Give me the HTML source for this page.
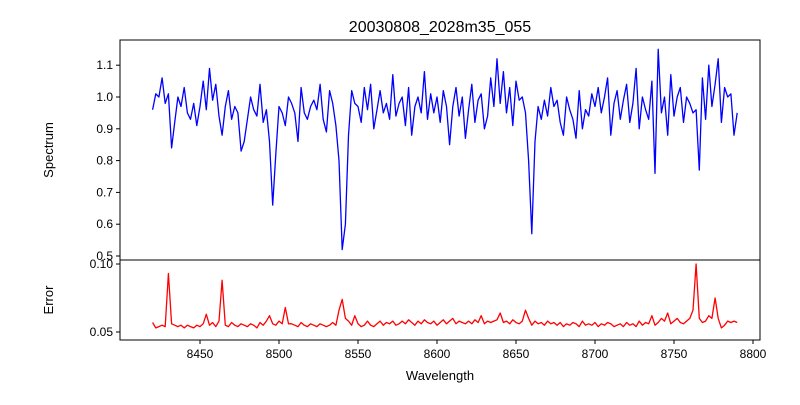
<!DOCTYPE html>
<html><head><meta charset="utf-8"><style>
body{margin:0;background:#fff}
svg{font-family:"Liberation Sans","DejaVu Sans",sans-serif}
</style></head><body>
<svg id="c" width="800" height="400" xmlns="http://www.w3.org/2000/svg">
<rect width="800" height="400" fill="#fff"/>
<text x="440" y="32" text-anchor="middle" font-size="16">20030808_2028m35_055</text>
<text transform="translate(53,150) rotate(-90)" text-anchor="middle" font-size="13">Spectrum</text>
<text transform="translate(53,300) rotate(-90)" text-anchor="middle" font-size="13">Error</text>
<text x="440" y="380" text-anchor="middle" font-size="13">Wavelength</text>
<g id="g"></g>
</svg>
<script>
const wlStart = 8420, wlStep = 2;
const spectrum = [
0.96,1.01,1.00,1.06,0.98,1.01,0.84,0.92,1.00,0.97,
1.03,0.95,0.93,0.98,0.91,0.97,1.05,0.96,1.09,0.99,
1.04,0.94,0.88,0.97,1.02,0.93,0.97,0.95,0.83,0.86,
0.93,1.00,0.96,0.94,1.04,0.92,0.96,0.86,0.66,0.82,
0.97,0.95,0.91,1.00,0.98,0.95,0.86,1.03,0.95,0.93,
0.97,0.99,0.96,1.04,0.93,0.89,1.02,0.98,0.91,0.80,
0.52,0.60,0.88,1.02,0.98,0.97,0.92,1.03,0.96,1.04,
0.90,0.96,1.02,0.95,0.98,0.93,1.07,0.94,0.98,1.00,
0.91,1.03,0.88,0.97,1.00,0.95,1.08,0.93,1.01,0.95,
1.00,0.92,1.02,0.97,0.85,0.97,1.03,0.94,1.00,0.87,
0.96,1.04,0.92,0.99,1.01,0.90,0.94,1.06,0.97,1.12,
0.98,1.08,0.95,1.03,0.91,1.05,0.99,1.00,0.95,0.80,
0.57,0.86,0.97,0.93,0.99,0.94,1.03,0.97,0.99,0.92,
0.88,1.00,0.96,0.93,0.87,1.02,0.90,0.96,0.94,1.01,
0.97,1.03,0.95,1.00,1.06,0.88,0.98,1.02,0.93,0.99,
1.04,0.92,0.98,1.09,0.90,1.00,0.96,0.93,1.05,0.76,
1.15,0.95,1.00,0.88,1.07,0.94,1.00,1.03,0.92,1.00,
0.98,0.95,0.96,0.77,1.06,0.93,1.10,0.97,1.04,1.12,
0.92,1.03,1.00,1.01,0.88,0.95];
const errors = [
.057,.053,.054,.055,.054,.093,.056,.055,.054,.055,
.053,.055,.054,.053,.055,.054,.056,.063,.055,.057,
.054,.058,.088,.055,.054,.057,.055,.054,.056,.055,
.054,.056,.055,.053,.057,.055,.058,.062,.056,.055,
.058,.056,.068,.056,.056,.055,.054,.057,.055,.054,
.056,.055,.054,.056,.055,.054,.055,.057,.055,.066,
.074,.060,.058,.055,.062,.056,.054,.055,.058,.055,
.054,.056,.058,.055,.057,.056,.058,.055,.056,.058,
.056,.059,.057,.055,.058,.056,.059,.057,.056,.058,
.055,.057,.059,.056,.058,.060,.056,.058,.057,.056,
.058,.056,.059,.057,.062,.056,.058,.057,.058,.059,
.064,.057,.058,.056,.059,.057,.056,.058,.066,.060,
.055,.058,.056,.057,.055,.058,.056,.057,.055,.057,
.054,.056,.055,.057,.056,.054,.058,.055,.056,.055,
.057,.054,.056,.055,.057,.056,.054,.055,.056,.054,
.057,.055,.056,.054,.058,.055,.057,.056,.062,.055,
.057,.060,.058,.064,.056,.058,.060,.057,.056,.058,
.060,.066,.100,.060,.057,.058,.062,.060,.075,.060,
.053,.055,.058,.057,.058,.057];
const xTicks = [8450,8500,8550,8600,8650,8700,8750,8800];
const specTicks = [0.5,0.6,0.7,0.8,0.9,1.0,1.1];
const specTickLabels = ["0.5","0.6","0.7","0.8","0.9","1.0","1.1"];
const errTicks = [0.05,0.10];
const errTickLabels = ["0.05","0.10"];

const NS="http://www.w3.org/2000/svg";
const g=document.getElementById('g');
const L=120,R=760,T1=40,B1=260,T2=260,B2=340;
const xs=w=>200+(w-8450)*1.58;
const ys=v=>97-(v-1.0)*318;
const ye=v=>332-(v-0.05)*1360;
function mk(t,a){const e=document.createElementNS(NS,t);for(const k in a)e.setAttribute(k,a[k]);g.appendChild(e);return e;}
function pathOf(arr,yf){return arr.map((v,i)=>(i?'L':'M')+xs(wlStart+i*wlStep).toFixed(1)+','+yf(v).toFixed(1)).join('');}
let p=mk('path',{d:pathOf(spectrum,ys),fill:'none',stroke:'#0000ff','stroke-width':1.3,'stroke-linejoin':'round'});


p=mk('path',{d:pathOf(errors,ye),fill:'none',stroke:'#ff0000','stroke-width':1.3,'stroke-linejoin':'round'});


let r=mk('rect',{x:L,y:T1,width:R-L,height:B1-T1,fill:'none',stroke:'#000','stroke-width':1});


r=mk('rect',{x:L,y:T2,width:R-L,height:B2-T2,fill:'none',stroke:'#000','stroke-width':1});


xTicks.forEach(w=>{const x=xs(w);
 let l=mk('line',{x1:x,x2:x,y1:B2,y2:B2+4,stroke:'#000'});
 
 
 let t=mk('text',{x:x,y:B2+18,'text-anchor':'middle','font-size':12});t.textContent=w;
 
 });
specTicks.forEach((v,i)=>{const y=ys(v);
 let l=mk('line',{x1:L-4,x2:L,y1:y,y2:y,stroke:'#000'});
 
 
 let t=mk('text',{x:L-7,y:y+4,'text-anchor':'end','font-size':12});t.textContent=specTickLabels[i];
 
 });
errTicks.forEach((v,i)=>{const y=ye(v);
 let l=mk('line',{x1:L-4,x2:L,y1:y,y2:y,stroke:'#000'});
 
 
 let t=mk('text',{x:L-7,y:y+4,'text-anchor':'end','font-size':12});t.textContent=errTickLabels[i];
 
 });
</script>
</body></html>
